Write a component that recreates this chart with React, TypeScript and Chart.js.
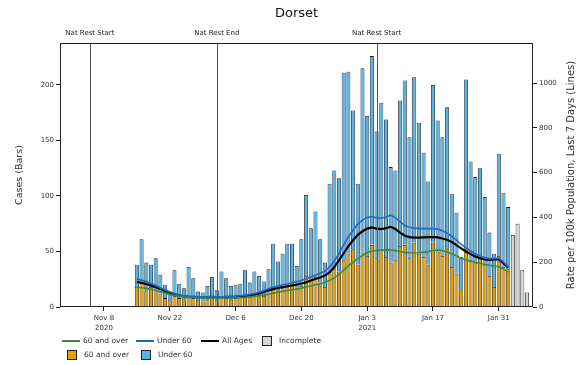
import React, { useEffect, useRef } from "react";
import { Chart, registerables } from "chart.js";

Chart.register(...registerables);

// Day offsets are counted from 8 Nov 2020 (day 0)
const FIRST_DAY = 7; // 15 Nov 2020, first bar
const INCOMPLETE_FIRST_DAY = 87; // 3 Feb 2021

const over60Cases = [
  18, 22, 15, 18, 14, 12, 8, 6, 10, 8, 7, 9, 8, 6, 5, 7, 8, 6, 9, 8,
  7, 8, 9, 10, 9, 11, 12, 10, 13, 18, 15, 17, 20, 22, 16, 19, 28, 24, 27, 22,
  18, 30, 34, 32, 42, 48, 52, 38, 50, 46, 56, 44, 52, 45, 40, 42, 55, 56, 44, 58,
  48, 45, 38, 58, 50, 46, 52, 36, 30, 16, 52, 42, 40, 44, 38, 28, 18, 46, 36, 34,
];
const under60Cases = [
  20, 39, 25, 20, 30, 17, 12, 8, 23, 13, 10, 27, 18, 8, 8, 12, 19, 9, 23, 18,
  12, 12, 12, 23, 13, 21, 16, 13, 21, 39, 26, 31, 37, 35, 21, 42, 73, 47, 59, 39,
  22, 81, 89, 84, 169, 164, 125, 73, 165, 126, 170, 114, 132, 124, 86, 81, 131, 148, 109, 149,
  118, 94, 75, 142, 118, 107, 128, 66, 55, 29, 153, 89, 77, 81, 61, 39, 30, 92, 67, 56,
];
const incompleteCases = [65, 75, 33, 13];

const rateOver60 = [
  88, 86, 83, 79, 74, 68, 62, 56, 51, 47, 44, 42, 41, 40, 40, 39, 39, 39, 40, 40,
  40, 41, 42, 43, 45, 47, 50, 53, 57, 62, 66, 70, 73, 77, 80, 84, 89, 94, 99, 104,
  110, 118, 130, 146, 165, 184, 200, 216, 230, 242, 250, 252, 254, 255, 254, 252, 248, 244, 242, 241,
  242, 245, 248, 252, 254, 252, 246, 238, 228, 218, 210, 204, 199, 195, 190, 186, 183, 180, 170, 156,
];
const rateUnder60 = [
  125, 120, 113, 105, 96, 86, 76, 67, 59, 53, 49, 47, 46, 45, 45, 45, 46, 45, 45, 46,
  46, 48, 50, 53, 56, 60, 66, 73, 81, 88, 94, 99, 103, 108, 113, 119, 125, 134, 142, 151,
  160, 178, 205, 240, 277, 313, 343, 370, 388, 400, 404, 398, 396, 402, 410, 398, 380, 364, 356, 352,
  350, 350, 350, 350, 348, 340, 330, 316, 298, 280, 264, 250, 238, 228, 220, 216, 216, 218, 200, 179,
];
const rateAllAges = [
  112, 108, 102, 96, 88, 80, 72, 64, 57, 52, 48, 46, 45, 44, 44, 44, 45, 44, 44, 45,
  45, 46, 48, 50, 53, 56, 61, 67, 74, 80, 85, 89, 92, 96, 100, 105, 110, 118, 125, 132,
  140, 155, 178, 208, 240, 272, 298, 322, 338, 350, 355, 350, 348, 352, 358, 348, 332, 318, 312, 310,
  310, 311, 312, 312, 311, 306, 300, 290, 276, 262, 248, 236, 226, 218, 212, 210, 212, 214, 196, 176,
];

const tickDays = [0, 14, 28, 42, 56, 70, 84];
const tickLabels = [["Nov 8", "2020"], ["Nov 22"], ["Dec 6"], ["Dec 20"], ["Jan 3", "2021"], ["Jan 17"], ["Jan 31"]];
const casesTicks = [0, 50, 100, 150, 200];
const rateTicks = [0, 200, 400, 600, 800, 1000];
const eventDays = [-3, 24, 58];
const eventLabels = ["Nat Rest Start", "Nat Rest End", "Nat Rest Start"];

const X_MIN = -9.36;
const X_MAX = 91.28;
const CASES_MAX = 237.8;
const RATE_MAX = 1178.6;

const FONT = "'DejaVu Sans', sans-serif";
const ORANGE = "#E69F00";
const SKY = "#56B4E9";
const GREEN = "#3d8b37";
const BLUE = "#1f66c9";
const GREY = "#d6d6d6";

const pts = (arr: number[], start: number) => arr.map((v, i) => ({ x: start + i, y: v }));

const overlayPlugin = {
  id: "overlay",
  afterDatasetsDraw(chart: any) {
    const { ctx, chartArea: a, scales } = chart;
    ctx.save();
    ctx.strokeStyle = "#555";
    ctx.lineWidth = 1;
    eventDays.forEach((d) => {
      const px = Math.round(scales.x.getPixelForValue(d)) + 0.5;
      ctx.beginPath();
      ctx.moveTo(px, a.top);
      ctx.lineTo(px, a.bottom);
      ctx.stroke();
    });
    ctx.restore();
  },
  afterDraw(chart: any) {
    const { ctx, chartArea: a, scales } = chart;
    ctx.save();
    ctx.strokeStyle = "#222";
    ctx.lineWidth = 1;
    ctx.strokeRect(a.left + 0.5, a.top + 0.5, a.right - a.left - 1, a.bottom - a.top - 1);
    ctx.fillStyle = "#222";
    ctx.textAlign = "center";
    ctx.textBaseline = "middle";
    ctx.font = `7px ${FONT}`;
    eventDays.forEach((d, i) => {
      const px = scales.x.getPixelForValue(d);
      ctx.fillText(eventLabels[i], px, 33);
    });
    ctx.fillStyle = "#111";
    ctx.font = `13px ${FONT}`;
    ctx.fillText("Dorset", (a.left + a.right) / 2, 14);
    // right axis title, reading bottom-to-top
    ctx.fillStyle = "#333";
    ctx.font = `10px ${FONT}`;
    ctx.translate(571, (a.top + a.bottom) / 2);
    ctx.rotate(-Math.PI / 2);
    ctx.fillText("Rate per 100k Population, Last 7 Days (Lines)", 0, 0);
    ctx.restore();
  },
};

const legendRow1 = [
  { kind: "line", color: GREEN, width: 1.6, x: 62, label: "60 and over" },
  { kind: "line", color: BLUE, width: 1.6, x: 136, label: "Under 60" },
  { kind: "line", color: "#000", width: 2.4, x: 201, label: "All Ages" },
  { kind: "box", color: GREY, x: 262, label: "Incomplete" },
];
const legendRow2 = [
  { kind: "box", color: ORANGE, x: 67, label: "60 and over" },
  { kind: "box", color: SKY, x: 141, label: "Under 60" },
];

function LegendItem({ item, y }: { item: any; y: number }) {
  const textX = item.kind === "line" ? item.x + 21 : item.x + 17;
  return (
    <>
      {item.kind === "line" ? (
        <div
          style={{
            position: "absolute",
            left: item.x,
            top: y - item.width / 2,
            width: 18,
            height: item.width,
            background: item.color,
          }}
        />
      ) : (
        <div
          style={{
            position: "absolute",
            left: item.x,
            top: y - 5,
            width: 8,
            height: 8,
            background: item.color,
            border: "1px solid #222",
          }}
        />
      )}
      <span
        style={{
          position: "absolute",
          left: textX,
          top: y - 5,
          fontFamily: FONT,
          fontSize: 7.5,
          lineHeight: "10px",
          color: "#333",
          whiteSpace: "nowrap",
        }}
      >
        {item.label}
      </span>
    </>
  );
}

export default function App() {
  const canvasRef = useRef<HTMLCanvasElement | null>(null);

  useEffect(() => {
    document.body.style.margin = "0";
    const canvas = canvasRef.current;
    if (!canvas) return;
    const tickFont = { family: FONT, size: 7 };
    const barCommon = {
      type: "bar",
      yAxisID: "y",
      borderColor: "#1a1a1a",
      borderWidth: 0.8,
      stack: "s",
      order: 1,
      barPercentage: 0.85,
      categoryPercentage: 1,
    };
    const lineCommon = { type: "line", yAxisID: "y1", pointRadius: 0, tension: 0, order: 0 };
    const chart = new Chart(canvas, {
      type: "bar",
      data: {
        datasets: [
          { ...lineCommon, label: "60 and over", data: pts(rateOver60, FIRST_DAY), borderColor: GREEN, borderWidth: 1.6 },
          { ...lineCommon, label: "Under 60", data: pts(rateUnder60, FIRST_DAY), borderColor: BLUE, borderWidth: 1.6 },
          { ...lineCommon, label: "All Ages", data: pts(rateAllAges, FIRST_DAY), borderColor: "#000", borderWidth: 2.2 },
          { ...barCommon, label: "60 and over", data: pts(over60Cases, FIRST_DAY), backgroundColor: ORANGE },
          { ...barCommon, label: "Under 60", data: pts(under60Cases, FIRST_DAY), backgroundColor: SKY },
          { ...barCommon, label: "Incomplete", data: pts(incompleteCases, INCOMPLETE_FIRST_DAY), backgroundColor: GREY },
        ] as any,
      },
      options: {
        animation: false,
        responsive: false,
        devicePixelRatio: 1,
        layout: { padding: { top: 43, left: 0, right: 0, bottom: 0 } },
        plugins: {
          legend: { display: false },
          title: { display: false },
          tooltip: { enabled: false },
        },
        scales: {
          x: {
            type: "linear",
            min: X_MIN,
            max: X_MAX,
            offset: false,
            stacked: true,
            afterBuildTicks: (scale: any) => {
              scale.ticks = tickDays.map((v) => ({ value: v }));
            },
            afterFit: (scale: any) => {
              scale.height = 58;
            },
            ticks: {
              autoSkip: false,
              maxRotation: 0,
              minRotation: 0,
              font: { ...tickFont, lineHeight: 1.4 },
              color: "#333",
              padding: 2,
              callback: (_v: any, i: number) => tickLabels[i],
            },
            grid: { drawOnChartArea: false, tickLength: 4, color: "#222", offset: false },
            border: { display: false },
          } as any,
          y: {
            type: "linear",
            position: "left",
            stacked: true,
            min: 0,
            max: CASES_MAX,
            afterBuildTicks: (scale: any) => {
              scale.ticks = casesTicks.map((v) => ({ value: v }));
            },
            afterFit: (scale: any) => {
              scale.width = 60;
            },
            ticks: { font: tickFont, color: "#333", padding: 2, callback: (v: any) => String(v) },
            grid: { drawOnChartArea: false, tickLength: 4, color: "#222" },
            border: { display: false },
            title: {
              display: true,
              text: "Cases (Bars)",
              font: { family: FONT, size: 9.5 },
              color: "#333",
              padding: { top: 14, bottom: 0 },
            },
          } as any,
          y1: {
            type: "linear",
            position: "right",
            stacked: false,
            min: 0,
            max: RATE_MAX,
            afterBuildTicks: (scale: any) => {
              scale.ticks = rateTicks.map((v) => ({ value: v }));
            },
            afterFit: (scale: any) => {
              scale.width = 45;
            },
            ticks: { font: tickFont, color: "#333", padding: 2, callback: (v: any) => String(v) },
            grid: { drawOnChartArea: false, tickLength: 4, color: "#222" },
            border: { display: false },
          } as any,
        },
      },
      plugins: [overlayPlugin],
    });
    return () => chart.destroy();
  }, []);

  return (
    <div style={{ position: "relative", width: 578, height: 365, background: "#fff" }}>
      <canvas ref={canvasRef} width={578} height={365} style={{ position: "absolute", left: 0, top: 0 }} />
      {legendRow1.map((it, i) => (
        <LegendItem key={"r1" + i} item={it} y={341} />
      ))}
      {legendRow2.map((it, i) => (
        <LegendItem key={"r2" + i} item={it} y={355} />
      ))}
    </div>
  );
}
